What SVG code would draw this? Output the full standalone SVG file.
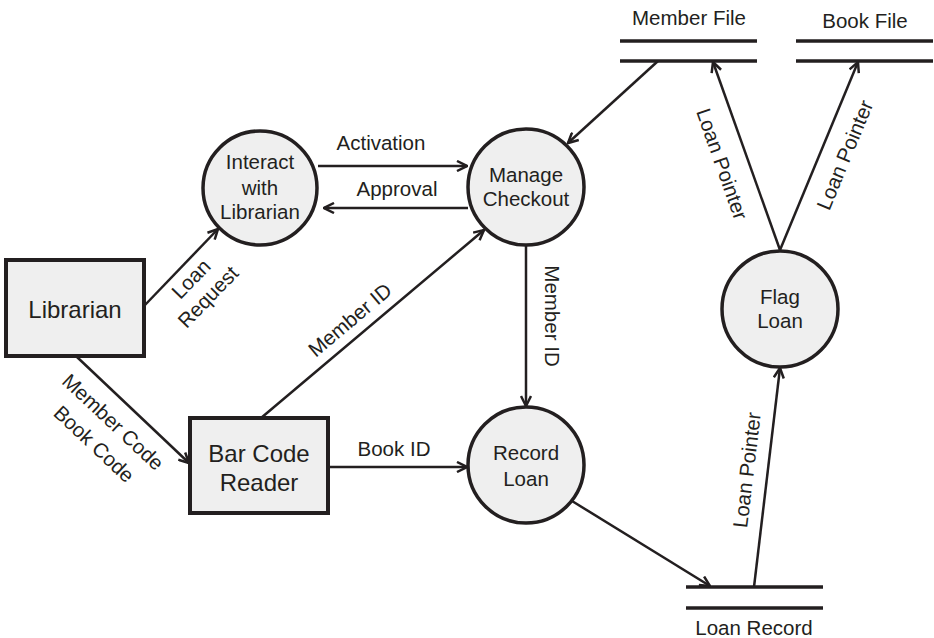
<svg xmlns="http://www.w3.org/2000/svg" width="934" height="638" viewBox="0 0 934 638">
<defs>
<marker id="arr" viewBox="0 0 12 12" refX="11" refY="6" markerWidth="12" markerHeight="12" markerUnits="userSpaceOnUse" orient="auto">
<path d="M1,1 L11,6 L1,11" fill="none" stroke="#231f20" stroke-width="2.5"/>
</marker>
</defs>
<style>
text{font-family:"Liberation Sans",Arial,sans-serif;font-size:20.5px;fill:#231f20;text-anchor:middle}
.big{font-size:24px}
.proc{fill:#efefef;stroke:#231f20;stroke-width:3.5}
.ent{fill:#efefef;stroke:#231f20;stroke-width:4}
.store{stroke:#231f20;stroke-width:3.5}
.flow{fill:none;stroke:#231f20;stroke-width:2.5;marker-end:url(#arr)}
</style>
<rect width="934" height="638" fill="#ffffff"/>
<g id="connectors">
<line class="flow" x1="145" y1="305" x2="218" y2="229"/>
<line class="flow" x1="318" y1="166" x2="467" y2="166"/>
<line class="flow" x1="468" y1="208" x2="324" y2="208"/>
<line class="flow" x1="658" y1="61" x2="568" y2="143"/>
<line class="flow" x1="261" y1="418" x2="484" y2="230"/>
<line class="flow" x1="526" y1="246" x2="526" y2="406"/>
<line class="flow" x1="328" y1="467" x2="467" y2="467"/>
<line class="flow" x1="77" y1="357" x2="189" y2="463"/>
<line class="flow" x1="572" y1="501" x2="710" y2="586"/>
<line class="flow" x1="754" y1="587" x2="780" y2="368"/>
<line class="flow" x1="780" y1="250" x2="713" y2="62"/>
<line class="flow" x1="780" y1="250" x2="858" y2="62"/>
<text transform="translate(191,279) rotate(-45.8)" y="7">Loan</text>
<text transform="translate(208,297) rotate(-45.8)" y="7">Request</text>
<text x="381" y="150">Activation</text>
<text x="397" y="196">Approval</text>
<text transform="translate(350,320) rotate(-40.1)" y="7">Member ID</text>
<text transform="translate(552,316) rotate(90)" y="7">Member ID</text>
<text x="394" y="456">Book ID</text>
<text transform="translate(113,422) rotate(43.2)" y="7">Member Code</text>
<text transform="translate(94,444) rotate(43.2)" y="7">Book Code</text>
<text transform="translate(747,470) rotate(-83.2)" y="7">Loan Pointer</text>
<text transform="translate(722,164) rotate(70.5)" y="7">Loan Pointer</text>
<text transform="translate(845,155) rotate(-67.6)" y="7">Loan Pointer</text>
</g>
<g id="librarian">
<rect class="ent" x="6" y="260" width="138" height="96"/>
<text class="big" x="75" y="318">Librarian</text>
</g>
<g id="barcode">
<rect class="ent" x="190" y="418" width="138" height="95"/>
<text class="big" x="259" y="462">Bar Code</text>
<text class="big" x="259" y="491">Reader</text>
</g>
<g id="interact">
<circle class="proc" cx="260" cy="188" r="57"/>
<text x="260" y="169">Interact</text>
<text x="260" y="195">with</text>
<text x="260" y="219">Librarian</text>
</g>
<g id="manage">
<circle class="proc" cx="526" cy="187" r="58"/>
<text x="526" y="182">Manage</text>
<text x="526" y="206">Checkout</text>
</g>
<g id="record">
<circle class="proc" cx="526" cy="465" r="58"/>
<text x="526" y="460">Record</text>
<text x="526" y="486">Loan</text>
</g>
<g id="flag">
<circle class="proc" cx="780" cy="309" r="58"/>
<text x="780" y="304">Flag</text>
<text x="780" y="328">Loan</text>
</g>
<g id="memberfile">
<line class="store" x1="620" y1="41" x2="757" y2="41"/>
<line class="store" x1="620" y1="61" x2="757" y2="61"/>
<text x="689" y="25">Member File</text>
</g>
<g id="bookfile">
<line class="store" x1="796" y1="41" x2="933" y2="41"/>
<line class="store" x1="796" y1="61" x2="933" y2="61"/>
<text x="865" y="28">Book File</text>
</g>
<g id="loanrecord">
<line class="store" x1="686" y1="587" x2="823" y2="587"/>
<line class="store" x1="686" y1="608" x2="823" y2="608"/>
<text x="754" y="635">Loan Record</text>
</g>
</svg>
